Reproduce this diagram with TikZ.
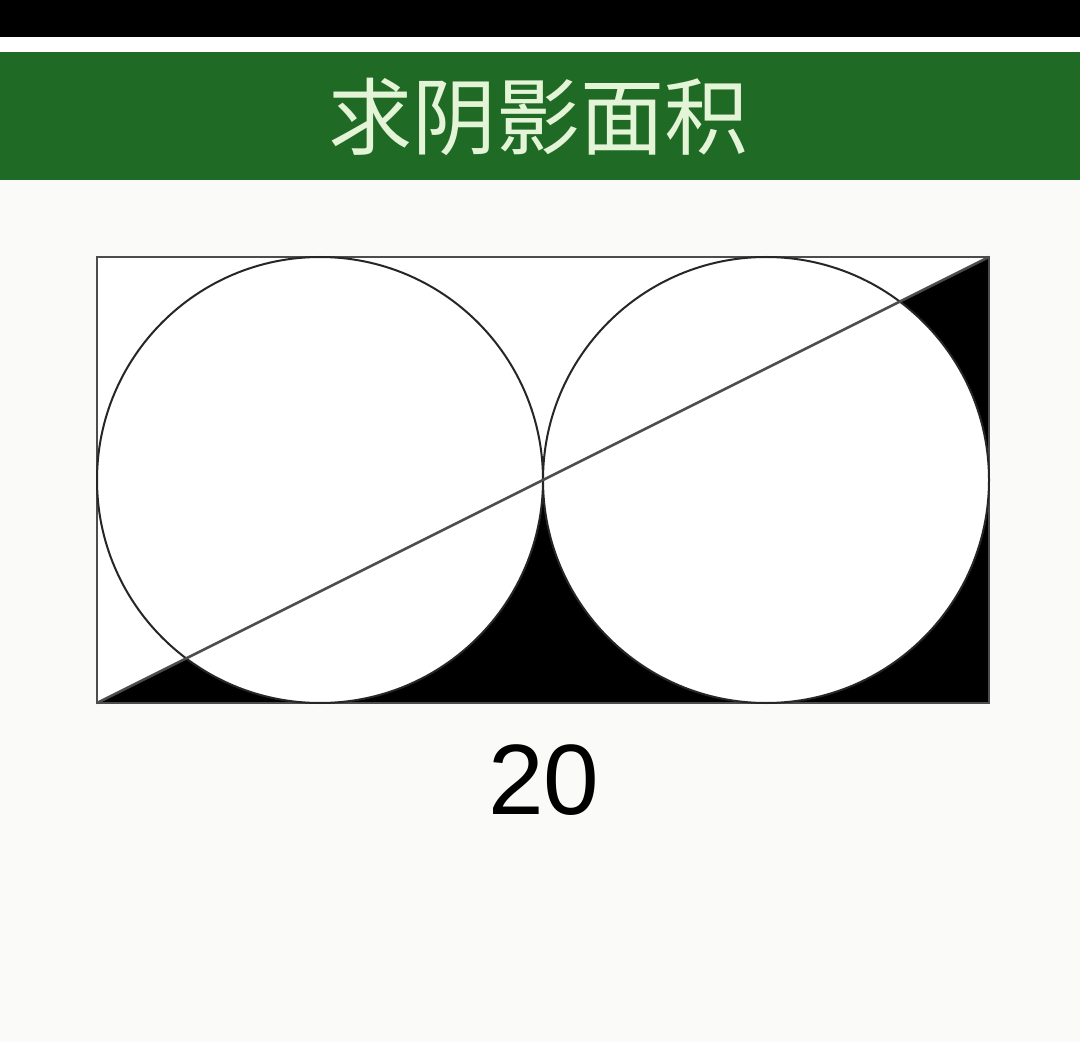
\documentclass[tikz,border=0pt]{standalone}
\usepackage{fontspec}
\setmainfont{Liberation Sans}
\newfontfamily\cjkfont{Noto Sans CJK SC}
\usepackage{tikz}
\usetikzlibrary{positioning}
\definecolor{titlegreen}{RGB}{31,106,36}
\definecolor{titletext}{RGB}{228,244,214}
\definecolor{paper}{RGB}{250,250,248}
\tikzset{
	frame/.style={draw=black!70, line width=1.3pt},
	ring/.style={draw=black!85, line width=1pt},
	shaded/.style={fill=black, even odd rule},
	heading/.style={text=titletext, font=\cjkfont\fontsize{42}{48}\selectfont, inner sep=0pt},
	sizelabel/.style={font=\fontsize{50}{56}\selectfont, inner sep=0pt}
}

\begin{document}
\begin{tikzpicture}[x=0.5pt, y=-0.5pt]
		
		% Page background and title bar
		\fill[paper] (0,0) rectangle (1080,1042);
		\useasboundingbox (0,0) rectangle (1080,1042);
		\fill[black] (0,0) rectangle (1080,37);
		\fill[white] (0,37) rectangle (1080,52);
		\fill[titlegreen] (0,52) rectangle (1080,180);
		\node[heading] (title) at (538,117) {求阴影面积};
		
		% Rectangle corners and circle centres
		\coordinate (bl) at (97,703);
		\coordinate (tr) at (989,257);
		\coordinate (o1) at (320,480);
		\coordinate (o2) at (766,480);
		
		% White inside of the frame and discs
		\fill[white] (bl) rectangle (tr);
		
		% Shaded part: below the diagonal, outside both circles
		\begin{scope}
			\clip (bl) -- (tr) -- (tr |- bl) -- cycle;
			\fill[shaded] (bl) rectangle (tr) (o1) circle (223) (o2) circle (223);
		\end{scope}
		
		% Outlines
		\draw[frame] (bl) rectangle (tr);
		\draw[ring] (o1) circle (223);
		\draw[ring] (o2) circle (223);
		\draw[frame] (bl) -- (tr);
		
		% Length of the bottom side
		\node[sizelabel] (len) at (544,780) {20};
		
	\end{tikzpicture}
\end{document}
